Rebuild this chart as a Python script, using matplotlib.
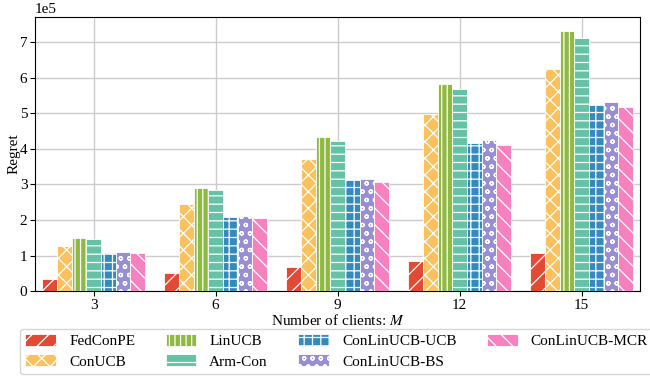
import numpy as np
import matplotlib
matplotlib.use("Agg")
import matplotlib.pyplot as plt

plt.rcParams['font.family'] = ['Liberation Serif', 'DejaVu Serif']
plt.rcParams['mathtext.fontset'] = 'stix'
plt.rcParams['hatch.color'] = 'white'
plt.rcParams['hatch.linewidth'] = 0.9

clients = [3, 6, 9, 12, 15]
methods = ["FedConPE", "ConUCB", "LinUCB", "Arm-Con",
           "ConLinUCB-UCB", "ConLinUCB-BS", "ConLinUCB-MCR"]

# regret values in units of 1e5
fedconpe = [0.33, 0.51, 0.68, 0.85, 1.06]
conucb = [1.27, 2.46, 3.70, 4.99, 6.24]
linucb = [1.50, 2.90, 4.33, 5.83, 7.31]
armcon = [1.47, 2.83, 4.22, 5.69, 7.12]
ucb = [1.08, 2.09, 3.11, 4.17, 5.24]
bs = [1.10, 2.12, 3.15, 4.26, 5.32]
mcr = [1.08, 2.06, 3.07, 4.12, 5.18]

series = [fedconpe, conucb, linucb, armcon, ucb, bs, mcr]
colors = ["#E24A33", "#FBC15E", "#8EBA42", "#66C2A5",
          "#348ABD", "#988ED5", "#F781BF"]
hatches = ["//", "xx", "|||", "--", "++", "oo", "\\\\"]

fig = plt.figure(figsize=(6.5, 3.81), dpi=100)
ax = fig.add_axes([0.054, 0.236, 0.931, 0.719])

x = np.arange(len(clients))
w = 0.12
for i, (vals, c, h, name) in enumerate(zip(series, colors, hatches, methods)):
    ax.bar(x + (i - 3) * w, np.array(vals) * 1e5, width=w, color=c,
           hatch=h, edgecolor="white", linewidth=0.6, label=name, zorder=3)

ax.set_xticks(x)
ax.set_xticklabels([str(m) for m in clients])
ax.set_xlim(-0.48, 4.48)
ax.set_ylim(0, 7.7e5)
ax.set_yticks(np.arange(0, 8) * 1e5)
ax.ticklabel_format(axis="y", style="sci", scilimits=(0, 0))
ax.grid(True, color="#cccccc", linewidth=1.0, zorder=0)
ax.tick_params(labelsize=11, pad=2)
ax.yaxis.get_offset_text().set_fontsize(11)
ax.set_xlabel("Number of clients: $M$", fontsize=11, labelpad=1)
ax.set_ylabel("Regret", fontsize=11)
ax.yaxis.set_label_coords(-0.024, 0.5)

fig.legend(loc="upper left", bbox_to_anchor=(0.031, 0.137), ncol=4,
           fontsize=11, handlelength=2.0, handleheight=0.8,
           handletextpad=0.85, columnspacing=2.0, frameon=True,
           edgecolor="#cccccc", fancybox=True, borderpad=0.35,
           labelspacing=0.4, borderaxespad=0)

fig.savefig("out.png", dpi=100)
